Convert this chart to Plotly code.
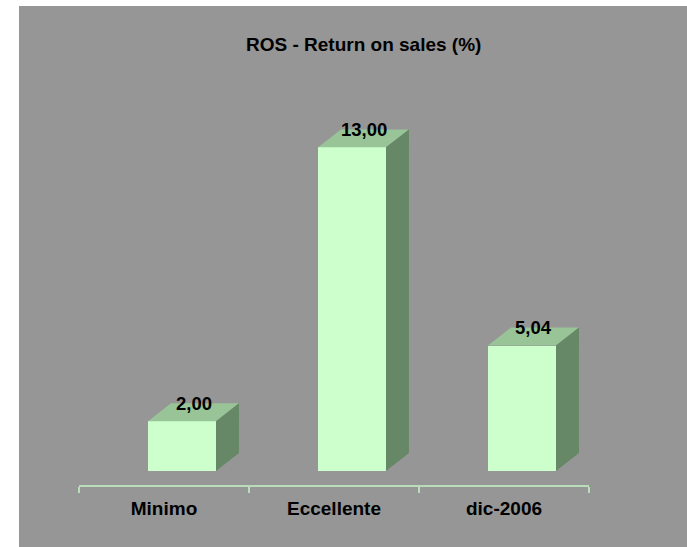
import plotly.graph_objects as go

categories = ["Minimo", "Eccellente", "dic-2006"]
values = [2.00, 13.00, 5.04]
value_labels = ["2,00", "13,00", "5,04"]
title_text = "ROS - Return on sales (%)"

FRONT = "#CCFFCC"
TOP = "#98C498"
SIDE = "#678867"
BG = "#969696"
AXIS = "#B9DDB9"
FONT = "Liberation Sans, Arial, sans-serif"

# bar geometry in data units
off = -0.094      # front face left edge relative to category
bw = 0.40         # front face width
dx = 0.135        # depth along x
dy = 0.72         # depth along y

W, H = 687, 547
L = 79
R = W - 589
B = H - 485
T = 90
pw = W - L - R
ph = H - T - B


def px_x(p):
    return (p - L) / pw


def px_y(p):
    return (H - B - p) / ph


fig = go.Figure()

xs = list(range(len(categories)))
fig.add_trace(go.Bar(x=xs, y=values, offset=off, width=bw,
                     marker=dict(color=FRONT, line=dict(width=0)),
                     hoverinfo="skip", showlegend=False))

for i, v in zip(xs, values):
    x0 = i + off
    x1 = x0 + bw
    fig.add_trace(go.Scatter(
        x=[x0, x1, x1 + dx, x0 + dx, x0],
        y=[v, v, v + dy, v + dy, v],
        fill="toself", fillcolor=TOP, mode="lines",
        line=dict(width=0, color=TOP), hoverinfo="skip", showlegend=False))
    fig.add_trace(go.Scatter(
        x=[x1, x1, x1 + dx, x1 + dx, x1],
        y=[0, v, v + dy, dy, 0],
        fill="toself", fillcolor=SIDE, mode="lines",
        line=dict(width=0, color=SIDE), hoverinfo="skip", showlegend=False))

for i, v, t in zip(xs, values, value_labels):
    fig.add_annotation(x=i + off + bw / 2 + dx / 2, y=v + dy, text="<b>%s</b>" % t,
                       showarrow=False, yanchor="middle", xanchor="center",
                       font=dict(family=FONT, size=18.5, color="black"))

# white frame strips on the left and top (rest of the page is grey)
fig.add_shape(type="rect", xref="paper", yref="paper",
              x0=px_x(-5), x1=px_x(19), y0=px_y(H + 5), y1=px_y(-5),
              fillcolor="white", line=dict(width=0), layer="below")
fig.add_shape(type="rect", xref="paper", yref="paper",
              x0=px_x(-5), x1=px_x(W + 5), y0=px_y(6), y1=px_y(-5),
              fillcolor="white", line=dict(width=0), layer="below")

fig.add_annotation(x=px_x(363), y=px_y(44), xref="paper", yref="paper",
                   text="<b>%s</b>" % title_text, showarrow=False,
                   xanchor="center", yanchor="middle",
                   font=dict(family=FONT, size=19, color="black"))

fig.update_layout(
    width=W, height=H,
    margin=dict(l=L, r=R, t=T, b=B),
    paper_bgcolor=BG, plot_bgcolor=BG,
    bargap=0,
    xaxis=dict(range=[-0.5, 2.5], tickvals=xs, ticktext=["<b>%s</b>" % c for c in categories],
               ticks="", showline=True, linecolor=AXIS, linewidth=2,
               showgrid=False, zeroline=False, ticklabelstandoff=5,
               tickfont=dict(family=FONT, size=19, color="black"),
               minor=dict(tickvals=[-0.5, 0.5, 1.5, 2.5], ticks="outside",
                          ticklen=6, tickwidth=2, tickcolor=AXIS, showgrid=False)),
    yaxis=dict(range=[-0.562, -0.562 + ph / 24.9], visible=False, showgrid=False,
               zeroline=False),
)

fig.write_html("out.html", config={"displayModeBar": False},
               post_script="document.body.style.margin='0';document.body.style.overflow='hidden';")
